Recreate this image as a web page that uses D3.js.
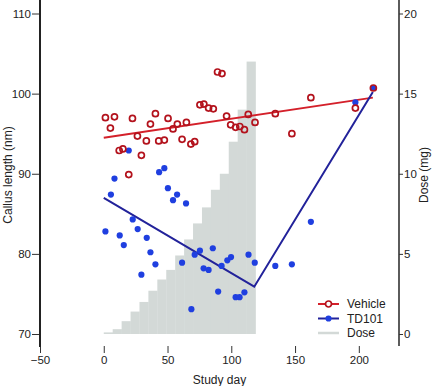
<!DOCTYPE html>
<html>
<head>
<meta charset="utf-8">
<script src="https://cdn.jsdelivr.net/npm/d3@7"></script>
<style>
  body { margin: 0; background: #fff; }
  text { font-family: "Liberation Sans", Arial, sans-serif; }
</style>
</head>
<body>
<script>
w = 436;
h = 386;

// weekly dose steps, day 0..119
doseStart = [0, 7, 14, 21, 28, 35, 42, 49, 56, 63, 70, 77, 84, 91, 98, 105, 112];
doseMg = [0.1, 0.3, 0.8, 1.4, 2.0, 2.7, 3.4, 4.0, 4.9, 5.9, 6.9, 7.9, 9.0, 10.0, 12.0, 14.0, 17.0];
doseWidth = 7;

vehicleDay = [1.3, 8.4, 5.2, 22.5, 40.5, 36.6, 50.4, 54.3, 57.7, 64.8, 26.4, 33.4, 43.1, 47.5, 61.4, 68.3, 71.3,
  12.1, 15.0, 29.5, 19.6, 75.4, 78.5, 82.2, 85.9, 89.2, 92.7, 96.3, 99.5, 103.4, 106.7, 110.3, 113.3, 118.6,
  134.5, 147.5, 162.4, 197.3, 211.4];
vehicleLen = [97.0, 97.1, 95.7, 96.9, 97.5, 96.2, 96.9, 95.6, 96.2, 96.4, 94.7, 94.1, 94.1, 94.2, 94.3, 93.7, 94.0,
  92.9, 93.1, 92.3, 89.9, 98.6, 98.7, 98.2, 98.1, 102.7, 102.5, 97.2, 96.1, 95.8, 95.9, 95.5, 97.4, 96.4,
  97.5, 95.0, 99.5, 98.2, 100.7];

td101Day = [19.6, 8.4, 5.6, 43.4, 47.5, 50.3, 57.5, 54.3, 64.5, 22.7, 1.3, 26.6, 12.5, 33.7, 15.7, 36.6, 40.5,
  29.5, 61.4, 71.3, 75.4, 85.5, 78.3, 82.2, 92.4, 96.9, 99.8, 113.5, 118.4, 89.7, 103.4, 106.5, 110.3, 68.7,
  134.5, 147.5, 162.4, 197.3, 211.4];
td101Len = [92.9, 89.4, 87.4, 90.2, 90.7, 88.2, 87.4, 86.7, 86.3, 84.3, 82.8, 83.1, 82.3, 82.0, 81.1, 80.2, 78.7,
  77.4, 78.9, 79.9, 80.4, 80.7, 78.2, 78.0, 78.5, 79.2, 79.6, 79.9, 78.9, 75.3, 74.6, 74.6, 75.2, 73.1,
  78.5, 78.7, 84.0, 98.9, 100.7];

vehicleFitDay = [0, 211];
vehicleFitLen = [94.5, 99.5];
td101FitDay = [0, 118, 211];
td101FitLen = [87.0, 75.9, 100.2];

xTicks = [-50, 0, 50, 100, 150, 200];
lenTicks = [70, 80, 90, 100, 110];
doseTicks = [0, 5, 10, 15, 20];

legendNames = ['Vehicle', 'TD101', 'Dose'];

left = 40;
right = 399;
top = 2.5;
bottom = 346;

let xScale = d3.scaleLinear().domain([-50, 231.5]).range([left, right]);
let yScale = d3.scaleLinear().domain([70, 110]).range([334, 13.5]);
let doseScale = d3.scaleLinear().domain([0, 20]).range([334, 13.5]);

svg = d3.select('body')
  .append('svg')
  .attr('width', w)
  .attr('height', h);

// dose histogram
svg.selectAll('rect.dose')
  .data(doseStart)
  .enter()
  .append('rect')
  .attr('class', 'dose')
  .attr('x', d => xScale(d))
  .attr('width', d => xScale(d + doseWidth) - xScale(d) + 0.3)
  .attr('y', (d, i) => doseScale(doseMg[i]))
  .attr('height', (d, i) => doseScale(0) - doseScale(doseMg[i]))
  .attr('fill', '#d3d9d7');

// frame
svg.append('rect')
  .attr('x', left)
  .attr('y', top)
  .attr('width', right - left)
  .attr('height', bottom - top)
  .attr('fill', 'none')
  .attr('stroke', '#555')
  .attr('stroke-width', 1.2);

let line = d3.line().x(d => xScale(d[0])).y(d => yScale(d[1]));

svg.append('path')
  .datum(vehicleFitDay.map((d, i) => [d, vehicleFitLen[i]]))
  .attr('d', line)
  .attr('fill', 'none')
  .attr('stroke', '#d4202a')
  .attr('stroke-width', 2);

svg.append('path')
  .datum(td101FitDay.map((d, i) => [d, td101FitLen[i]]))
  .attr('d', line)
  .attr('fill', 'none')
  .attr('stroke', '#22229a')
  .attr('stroke-width', 2);

svg.selectAll('circle.td')
  .data(td101Day.map((d, i) => [d, td101Len[i]]))
  .enter()
  .append('circle')
  .attr('class', 'td')
  .attr('cx', d => xScale(d[0]))
  .attr('cy', d => yScale(d[1]))
  .attr('r', 3.1)
  .attr('fill', '#1f3fe0');

svg.selectAll('circle.veh')
  .data(vehicleDay.map((d, i) => [d, vehicleLen[i]]))
  .enter()
  .append('circle')
  .attr('class', 'veh')
  .attr('cx', d => xScale(d[0]))
  .attr('cy', d => yScale(d[1]))
  .attr('r', 3)
  .attr('fill', 'none')
  .attr('stroke', '#b3121c')
  .attr('stroke-width', 1.7);

// axes
let xAxis = d3.axisBottom(xScale).tickValues(xTicks).tickSize(7).tickPadding(3)
  .tickFormat(d => d < 0 ? '\u2212' + Math.abs(d) : d);
let yAxis = d3.axisLeft(yScale).tickValues(lenTicks).tickSize(8).tickPadding(1);
let dAxis = d3.axisRight(doseScale).tickValues(doseTicks).tickSize(4).tickPadding(1);

let gx = svg.append('g')
  .attr('transform', `translate(0, ${bottom})`)
  .call(xAxis);
gx.select('.domain').remove();

let gy = svg.append('g')
  .attr('transform', `translate(${left}, 0)`)
  .call(yAxis);
gy.select('.domain').remove();

let gd = svg.append('g')
  .attr('transform', `translate(${right}, 0)`)
  .call(dAxis);
gd.select('.domain').remove();

svg.selectAll('.tick line').attr('stroke', '#333');
svg.selectAll('.tick text')
  .attr('font-size', 11.5)
  .attr('font-family', '"Liberation Sans", Arial, sans-serif')
  .attr('fill', '#222');

// thick axis lines on both sides
svg.append('line')
  .attr('x1', left).attr('x2', left)
  .attr('y1', top).attr('y2', bottom + 1)
  .attr('stroke', '#222').attr('stroke-width', 2);
svg.append('line')
  .attr('x1', right).attr('x2', right)
  .attr('y1', top).attr('y2', bottom)
  .attr('stroke', '#333').attr('stroke-width', 1.6);

// titles
svg.append('text')
  .attr('x', (left + right) / 2)
  .attr('y', 384)
  .attr('text-anchor', 'middle')
  .attr('font-size', 12)
  .attr('fill', '#222')
  .text('Study day');

svg.append('text')
  .attr('transform', 'translate(12, 175) rotate(-90)')
  .attr('text-anchor', 'middle')
  .attr('font-size', 12)
  .attr('fill', '#222')
  .text('Callus length (nm)');

svg.append('text')
  .attr('transform', 'translate(428, 175) rotate(-90)')
  .attr('text-anchor', 'middle')
  .attr('font-size', 12)
  .attr('fill', '#222')
  .text('Dose (mg)');

// legend
let legend = svg.append('g').attr('transform', 'translate(318, 304)');
let legendColor = ['#d4202a', '#22229a', '#d3d9d7'];
legendNames.forEach((name, i) => {
  let g = legend.append('g').attr('transform', `translate(0, ${i * 14.5})`);
  g.append('line')
    .attr('x1', 0).attr('x2', 21)
    .attr('stroke', legendColor[i])
    .attr('stroke-width', i === 2 ? 2.5 : 2);
  if (i === 0) {
    g.append('circle').attr('cx', 10.5).attr('r', 3)
      .attr('fill', '#fff').attr('stroke', '#b3121c').attr('stroke-width', 1.7);
  }
  if (i === 1) {
    g.append('circle').attr('cx', 10.5).attr('r', 3.1).attr('fill', '#1f3fe0');
  }
  g.append('text')
    .attr('x', 29)
    .attr('y', 4.2)
    .attr('font-size', 12)
    .attr('fill', '#222')
    .text(name);
});
</script>
</body>
</html>
